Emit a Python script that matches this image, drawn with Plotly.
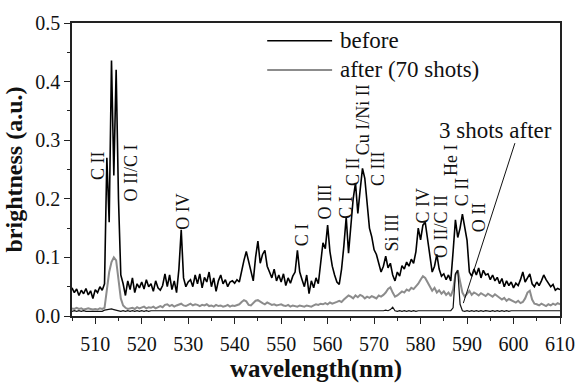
import numpy as np
import plotly.graph_objects as go

# wavelength grid: 505 .. 610 nm, step 0.5 nm
wl_start, wl_step = 505.0, 0.5

before = [
    0.048, 0.040, 0.046, 0.035, 0.044, 0.038, 0.047, 0.036, 0.043, 0.030,  # 505-509.5
    0.045, 0.040, 0.050, 0.044, 0.055, 0.270, 0.160, 0.436, 0.240, 0.420,  # 510-514.5
    0.200, 0.070, 0.055, 0.035, 0.060, 0.045, 0.065, 0.040, 0.055, 0.048,  # 515-519.5
    0.058, 0.046, 0.062, 0.050, 0.055, 0.042, 0.060, 0.048, 0.044, 0.052,  # 520-524.5
    0.072, 0.050, 0.070, 0.045, 0.060, 0.040, 0.080, 0.147, 0.065, 0.050,  # 525-529.5
    0.058, 0.062, 0.050, 0.070, 0.055, 0.072, 0.048, 0.066, 0.058, 0.075,  # 530-534.5
    0.050, 0.065, 0.042, 0.060, 0.070, 0.055, 0.062, 0.050, 0.058, 0.060,  # 535-539.5
    0.056, 0.062, 0.058, 0.080, 0.095, 0.110, 0.095, 0.075, 0.060, 0.100,  # 540-544.5
    0.128, 0.090, 0.105, 0.112, 0.085, 0.075, 0.065, 0.080, 0.060, 0.070,  # 545-549.5
    0.058, 0.072, 0.052, 0.065, 0.056, 0.068, 0.075, 0.112, 0.075, 0.062,  # 550-554.5
    0.050, 0.070, 0.038, 0.060, 0.048, 0.065, 0.055, 0.090, 0.125, 0.115,  # 555-559.5
    0.155, 0.110, 0.085, 0.070, 0.058, 0.054, 0.080, 0.120, 0.169, 0.107,  # 560-564.5
    0.150, 0.200, 0.227, 0.175, 0.215, 0.252, 0.235, 0.190, 0.150, 0.135,  # 565-569.5
    0.113, 0.105, 0.090, 0.075, 0.085, 0.102, 0.082, 0.090, 0.070, 0.060,  # 570-574.5
    0.075, 0.068, 0.086, 0.080, 0.092, 0.085, 0.097, 0.090, 0.110, 0.150,  # 575-579.5
    0.130, 0.155, 0.160, 0.130, 0.100, 0.075, 0.085, 0.105, 0.080, 0.068,  # 580-584.5
    0.072, 0.062, 0.070, 0.060, 0.110, 0.164, 0.134, 0.150, 0.174, 0.150,  # 585-589.5
    0.129, 0.075, 0.068, 0.080, 0.070, 0.082, 0.065, 0.078, 0.070, 0.072,  # 590-594.5
    0.062, 0.070, 0.060, 0.066, 0.055, 0.064, 0.050, 0.060, 0.052, 0.058,  # 595-599.5
    0.048, 0.056, 0.052, 0.062, 0.075, 0.058, 0.065, 0.072, 0.055, 0.050,  # 600-604.5
    0.058, 0.052, 0.060, 0.070, 0.062, 0.055, 0.050, 0.054, 0.044, 0.047,  # 605-609.5
    0.045,                                                                  # 610
]

after_70 = [
    0.013, 0.012, 0.014, 0.012, 0.013, 0.011, 0.012, 0.013, 0.012, 0.011,
    0.012, 0.011, 0.013, 0.012, 0.014, 0.045, 0.075, 0.092, 0.100, 0.095,
    0.060, 0.030, 0.018, 0.014, 0.012, 0.013, 0.014, 0.012, 0.015, 0.013,
    0.014, 0.016, 0.013, 0.015, 0.014, 0.016, 0.013, 0.015, 0.017, 0.015,
    0.019, 0.020, 0.017, 0.019, 0.016, 0.018, 0.020, 0.021, 0.018, 0.017,
    0.019, 0.021, 0.018, 0.020, 0.019, 0.017, 0.019, 0.018, 0.020, 0.017,
    0.018, 0.016, 0.019, 0.017, 0.018, 0.016, 0.017, 0.019, 0.016, 0.018,
    0.017, 0.018, 0.020, 0.024, 0.027, 0.025, 0.019, 0.018, 0.022, 0.026,
    0.027, 0.024, 0.022, 0.020, 0.023, 0.021, 0.019, 0.020, 0.018, 0.019,
    0.020, 0.018, 0.017, 0.019, 0.016, 0.018, 0.017, 0.016, 0.018, 0.017,
    0.016, 0.018, 0.017, 0.016, 0.018, 0.020, 0.019, 0.021, 0.020, 0.022,
    0.020, 0.023, 0.021, 0.022, 0.024, 0.026, 0.024, 0.028, 0.032, 0.035,
    0.033, 0.030, 0.035, 0.032, 0.036, 0.034, 0.030, 0.033, 0.031, 0.034,
    0.032, 0.030, 0.035, 0.033, 0.036, 0.040, 0.046, 0.049, 0.040, 0.033,
    0.035, 0.038, 0.042, 0.040, 0.045, 0.043, 0.048, 0.046, 0.050, 0.055,
    0.062, 0.068, 0.065, 0.058, 0.050, 0.043, 0.048, 0.040, 0.044, 0.038,
    0.042, 0.036, 0.040, 0.034, 0.045, 0.070, 0.078, 0.060, 0.040, 0.033,
    0.038, 0.043, 0.036, 0.040, 0.038, 0.035, 0.039, 0.037, 0.034, 0.038,
    0.036, 0.033, 0.037, 0.034, 0.030, 0.028, 0.031, 0.026, 0.029, 0.027,
    0.025, 0.023, 0.026, 0.022, 0.024, 0.030, 0.040, 0.043, 0.028, 0.021,
    0.020, 0.018, 0.021, 0.019, 0.017, 0.020, 0.018, 0.021, 0.019, 0.022,
    0.020,
]

after_3 = [
    0.008, 0.009, 0.008, 0.009, 0.008, 0.009, 0.008, 0.008, 0.009, 0.008,
    0.009, 0.008, 0.009, 0.008, 0.010, 0.011, 0.012, 0.012, 0.011, 0.010,
    0.009, 0.008, 0.009, 0.008, 0.009, 0.008, 0.009, 0.008, 0.009, 0.008,
    0.009, 0.008, 0.009, 0.008, 0.009, 0.009, 0.008, 0.009, 0.008, 0.009,
    0.008, 0.009, 0.008, 0.009, 0.008, 0.009, 0.008, 0.009, 0.008, 0.009,
    0.009, 0.008, 0.009, 0.008, 0.009, 0.008, 0.009, 0.008, 0.009, 0.008,
    0.008, 0.009, 0.008, 0.009, 0.008, 0.009, 0.008, 0.009, 0.008, 0.009,
    0.009, 0.008, 0.009, 0.008, 0.009, 0.008, 0.009, 0.008, 0.009, 0.008,
    0.008, 0.009, 0.008, 0.009, 0.008, 0.009, 0.008, 0.009, 0.008, 0.009,
    0.009, 0.008, 0.009, 0.008, 0.009, 0.008, 0.009, 0.008, 0.009, 0.008,
    0.008, 0.009, 0.008, 0.009, 0.008, 0.009, 0.008, 0.009, 0.008, 0.009,
    0.009, 0.008, 0.009, 0.008, 0.009, 0.008, 0.009, 0.008, 0.009, 0.008,
    0.008, 0.009, 0.008, 0.009, 0.008, 0.009, 0.008, 0.009, 0.008, 0.009,
    0.009, 0.008, 0.009, 0.008, 0.009, 0.010, 0.009, 0.011, 0.015, 0.009,
    0.008, 0.009, 0.008, 0.009, 0.008, 0.009, 0.008, 0.009, 0.008, 0.009,
    0.009, 0.008, 0.009, 0.008, 0.009, 0.008, 0.009, 0.008, 0.009, 0.008,
    0.008, 0.009, 0.008, 0.009, 0.014, 0.072, 0.078, 0.020, 0.009, 0.008,
    0.009, 0.008, 0.009, 0.008, 0.009, 0.008, 0.009, 0.008, 0.009, 0.008,
    0.008, 0.009, 0.008, 0.009, 0.008, 0.009, 0.008, 0.009, 0.008, 0.009,
    0.009, 0.008, 0.009, 0.008, 0.009, 0.008, 0.009, 0.008, 0.009, 0.008,
    0.008, 0.009, 0.008, 0.009, 0.008, 0.009, 0.008, 0.009, 0.008, 0.009,
    0.009,
]

wavelength = [wl_start + i * wl_step for i in range(len(before))]

# line identification labels (text, wavelength, brightness)
ion_labels = ["C II", "O II/C I", "O IV", "C I", "O III", "C I", "C II", "Cu I/Ni II",
              "C III", "Si III", "C IV", "O II/C II", "He I", "C II", "O II"]
ion_x = [510.6, 517.8, 529.0, 554.5, 559.5, 563.9, 565.6, 567.5,
         571.0, 573.9, 580.6, 584.4, 586.5, 588.8, 592.5]
ion_y = [0.256, 0.244, 0.179, 0.138, 0.194, 0.186, 0.247, 0.335,
         0.252, 0.143, 0.189, 0.152, 0.266, 0.212, 0.168]

x_ticks = [510, 520, 530, 540, 550, 560, 570, 580, 590, 600, 610]
y_ticks = [0.0, 0.1, 0.2, 0.3, 0.4, 0.5]

SERIF = "Liberation Serif"

fig = go.Figure()
fig.add_trace(go.Scatter(x=wavelength, y=after_70, mode="lines", name="after (70 shots)",
                         line=dict(color="#8c8c8c", width=2)))
fig.add_trace(go.Scatter(x=wavelength, y=after_3, mode="lines", name="3 shots after",
                         line=dict(color="#111111", width=1.2)))
fig.add_trace(go.Scatter(x=wavelength, y=before, mode="lines", name="before",
                         line=dict(color="#000000", width=1.6)))

annotations = []
for t, x, y in zip(ion_labels, ion_x, ion_y):
    annotations.append(dict(x=x, y=y, xref="x", yref="y", text=t, showarrow=False,
                            textangle=-90, font=dict(family=SERIF, size=18, color="#111")))

annotations.append(dict(x=596.1, y=0.317, xref="x", yref="y", text="3 shots after",
                        showarrow=False, font=dict(family=SERIF, size=23, color="#111")))

# manual legend
leg_items = [("before", "#000000", 1.5, 0.939), ("after (70 shots)", "#8c8c8c", 2, 0.840)]
shapes = []
for txt, col, w, yy in leg_items:
    shapes.append(dict(type="line", xref="paper", yref="paper", x0=0.400, x1=0.533,
                       y0=yy, y1=yy, line=dict(color=col, width=w)))
    annotations.append(dict(x=0.545, y=yy, xref="paper", yref="paper", text=txt,
                            showarrow=False, xanchor="left", yanchor="middle",
                            font=dict(family=SERIF, size=23, color="#111")))

# pointer line for "3 shots after"
shapes.append(dict(type="line", xref="x", yref="y", x0=600.3, y0=0.295, x1=589.2, y1=0.022,
                   line=dict(color="#111", width=1)))

axis_common = dict(showline=True, linecolor="#222", linewidth=1.5, mirror=True,
                   ticks="outside", ticklen=6, tickwidth=1.2, tickcolor="#222",
                   showgrid=False, zeroline=False, ticklabeloverflow="allow",
                   tickfont=dict(family=SERIF, size=20, color="#111"))

fig.update_layout(
    width=587, height=384,
    margin=dict(l=72, r=13, t=15, b=57),
    paper_bgcolor="white", plot_bgcolor="white",
    showlegend=False,
    font=dict(family=SERIF),
    xaxis=dict(range=[505, 610], tickvals=x_ticks, ticklabelstandoff=3,
               minor=dict(dtick=5, tick0=505, ticks="outside", ticklen=3, tickcolor="#222"),
               title=dict(text="<b>wavelength(nm)</b>", standoff=0,
                          font=dict(family=SERIF, size=25, color="#111")),
               **axis_common),
    yaxis=dict(range=[0, 0.5], tickvals=y_ticks, tickformat=".1f",
               minor=dict(dtick=0.05, tick0=0, ticks="outside", ticklen=3, tickcolor="#222"),
               title=dict(text="<b>brightness (a.u.)</b>", standoff=6,
                          font=dict(family=SERIF, size=24, color="#111")),
               **axis_common),
    annotations=annotations,
    shapes=shapes,
)

fig.write_html("out.html")
